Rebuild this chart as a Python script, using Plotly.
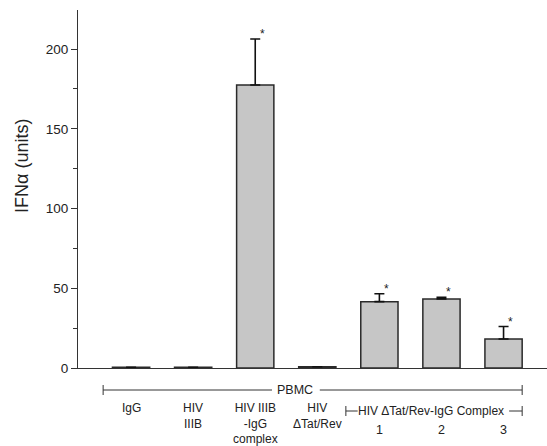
import plotly.graph_objects as go

# ---- data ----
positions = [1, 2, 3, 4, 5, 6, 7]
values = [0.5, 0.5, 177.5, 0.8, 41.6, 43.3, 18.2]
errors = [0, 0, 28.8, 0, 5.0, 1.0, 7.8]
significant = [False, False, True, False, True, True, True]
cat_labels = ["IgG", "HIV<br>IIIB", "HIV IIIB<br>-IgG<br>complex", "HIV<br>ΔTat/Rev", "1", "2", "3"]
y_ticks = [0, 50, 100, 150, 200]
y_title = "IFNα (units)"
group_label = "PBMC"
subgroup_label = "HIV ΔTat/Rev-IgG Complex"

FONT = "Liberation Sans, Arial, sans-serif"
W, H = 547, 446
ML, MR, MT, MB = 78, 0, 10, 78
X0, X1 = 0.145, 7.70
plot_h = H - MT - MB

def py(px_below):
    """paper y for a pixel offset below the x axis line"""
    return -px_below / plot_h

fig = go.Figure()
fig.add_trace(go.Bar(
    x=positions, y=values, width=0.6,
    marker=dict(color="#c6c6c6", line=dict(color="#2a2a2a", width=1.5)),
    error_y=dict(type="data", symmetric=False, array=errors,
                 arrayminus=[0] * len(errors), color="#111111",
                 thickness=1.6, width=5),
    showlegend=False,
))

annotations = []
for p, v, e, s in zip(positions, values, errors, significant):
    if s:
        annotations.append(dict(x=p + 0.11, y=v + e, xref="x", yref="y",
                                text="*", showarrow=False, yanchor="bottom",
                                yshift=-4, font=dict(size=12, color="#222", family=FONT)))

for i, (p, lab) in enumerate(zip(positions, cat_labels)):
    yoff = 53 if i >= 4 else 31
    annotations.append(dict(x=p, y=py(yoff), xref="x", yref="paper", text=lab,
                            showarrow=False, yanchor="top", align="center",
                            font=dict(size=12.5 if i >= 4 else 12, color="#222", family=FONT)))

# axis title
annotations.append(dict(x=0, y=(H - MB - 166) / plot_h, xref="paper", yref="paper",
                        xshift=22 - ML, text=y_title, textangle=-90, showarrow=False,
                        xanchor="center", yanchor="middle",
                        font=dict(size=18, color="#222", family=FONT)))

# PBMC bracket
annotations.append(dict(x=3.64, y=py(22), xref="x", yref="paper", text=group_label,
                        showarrow=False, yanchor="middle",
                        font=dict(size=12.5, color="#222", family=FONT)))
annotations.append(dict(x=5.83, y=py(43), xref="x", yref="paper", text=subgroup_label,
                        showarrow=False, yanchor="middle",
                        font=dict(size=12, color="#222", family=FONT)))

line = dict(color="#333", width=1)
shapes = [
    dict(type="line", xref="x", yref="paper", x0=0.55, x1=3.27, y0=py(22), y1=py(22), line=line),
    dict(type="line", xref="x", yref="paper", x0=4.04, x1=7.30, y0=py(22), y1=py(22), line=line),
    dict(type="line", xref="x", yref="paper", x0=0.55, x1=0.55, y0=py(17), y1=py(27), line=line),
    dict(type="line", xref="x", yref="paper", x0=7.30, x1=7.30, y0=py(17), y1=py(27), line=line),
    # sub bracket
    dict(type="line", xref="x", yref="paper", x0=4.46, x1=4.65, y0=py(43), y1=py(43), line=line),
    dict(type="line", xref="x", yref="paper", x0=4.46, x1=4.46, y0=py(38), y1=py(48), line=line),
    dict(type="line", xref="x", yref="paper", x0=7.09, x1=7.30, y0=py(43), y1=py(43), line=line),
    dict(type="line", xref="x", yref="paper", x0=7.30, x1=7.30, y0=py(38), y1=py(48), line=line),
]

fig.update_layout(
    width=W, height=H,
    margin=dict(l=ML, r=MR, t=MT, b=MB),
    paper_bgcolor="white", plot_bgcolor="white",
    font=dict(family=FONT, color="#222"),
    xaxis=dict(range=[X0, X1], showline=True, linecolor="#333", linewidth=1.2,
               showticklabels=False, ticks="", showgrid=False, zeroline=False),
    yaxis=dict(range=[0, 224.5], showline=True, linecolor="#333", linewidth=1.2,
               tickvals=y_ticks, ticks="outside", ticklen=6, tickcolor="#333",
               showgrid=False, zeroline=False,
               tickfont=dict(size=13.5, color="#222", family=FONT),
               minor=dict(dtick=25, ticks="outside", ticklen=4, tickcolor="#333", showgrid=False)),
    annotations=annotations, shapes=shapes, bargap=0.4,
)

fig.write_html("out.html")
